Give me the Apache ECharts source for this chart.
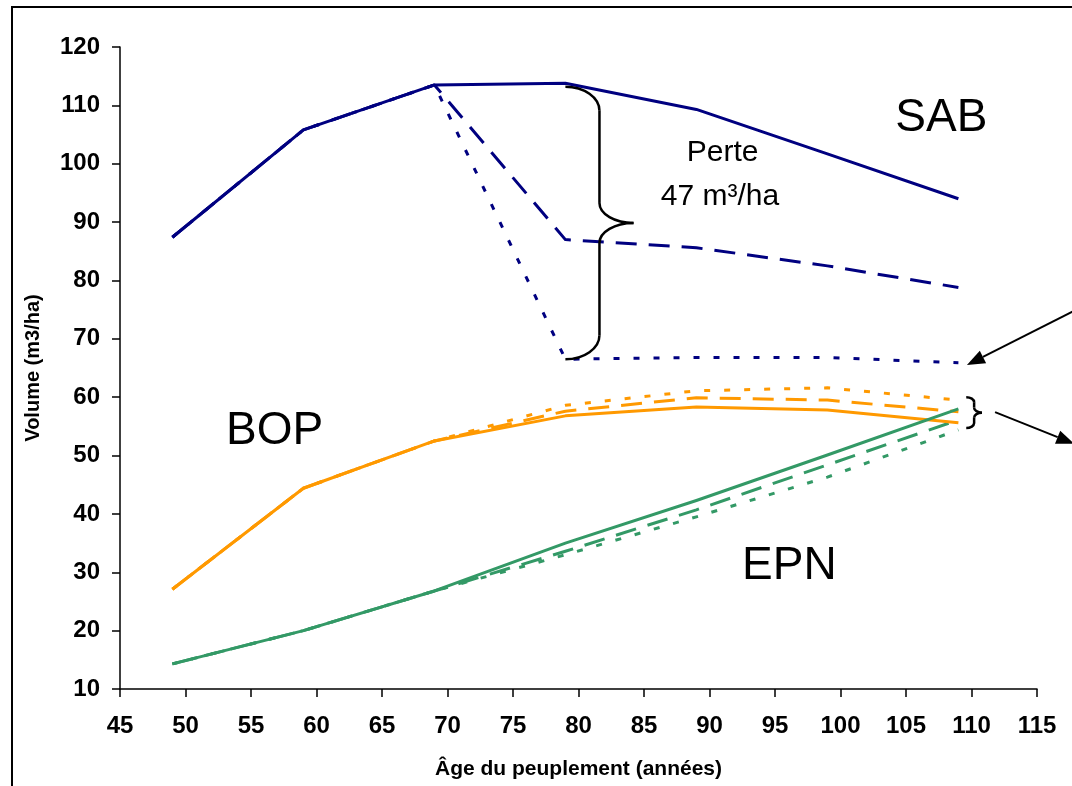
<!DOCTYPE html>
<html>
<head>
<meta charset="utf-8">
<script src="https://cdn.jsdelivr.net/npm/echarts@6/dist/echarts.min.js"></script>
<style>
  html, body { margin: 0; padding: 0; background: #fff; }
  #chart { width: 1072px; height: 786px; }
</style>
</head>
<body>
<div id="chart"></div>
<script>
// Âge du peuplement (années)
const ages = [49, 59, 69, 79, 89, 99, 109];

// Volume (m3/ha) par essence : témoin, perte modérée, perte sévère
const sabTemoin = [87.4, 105.8, 113.5, 113.8, 109.3, 101.7, 94.0];
const sabModere = [87.4, 105.8, 113.5, 87.0, 85.6, 82.5, 78.8];
const sabSevere = [87.4, 105.8, 113.5, 66.5, 66.8, 66.8, 65.9];

const bopTemoin = [27.1, 44.4, 52.5, 56.8, 58.3, 57.8, 55.6];
const bopModere = [27.1, 44.4, 52.5, 57.6, 59.9, 59.5, 57.5];
const bopSevere = [27.1, 44.4, 52.5, 58.6, 61.1, 61.6, 59.5];

const epnTemoin = [14.3, 20.0, 26.8, 35.0, 42.3, 50.1, 58.0];
const epnModere = [14.3, 20.0, 26.8, 33.6, 40.7, 48.4, 56.1];
const epnSevere = [14.3, 20.0, 26.8, 33.0, 39.5, 46.3, 54.4];

// Axis ranges and tick steps
const xMin = 45, xMax = 115, xStep = 5;
const yMin = 10, yMax = 120, yStep = 10;

const NAVY = '#000080', ORANGE = '#FF9900', GREEN = '#339966';
const DASH = [21, 12];
const DOT = [6, 14];
const FONT = '"Liberation Sans", Arial, sans-serif';

function pairs(vals) { return ages.map((a, i) => [a, vals[i]]); }

function line(name, vals, color, type, z) {
  return {
    name: name,
    type: 'line',
    data: pairs(vals),
    symbol: 'none',
    z: z,
    lineStyle: { color: color, width: 3, type: type, cap: 'butt', join: 'round' },
    emphasis: { disabled: true }
  };
}

const chart = echarts.init(document.getElementById('chart'), null, { renderer: 'canvas' });

chart.setOption({
  animation: false,
  backgroundColor: '#ffffff',
  grid: { left: 120, right: 35, top: 47, bottom: 97 },
  xAxis: {
    type: 'value',
    min: xMin, max: xMax, interval: xStep,
    name: 'Âge du peuplement (années)',
    nameLocation: 'middle',
    nameGap: 70,
    nameTextStyle: { fontFamily: FONT, fontWeight: 'bold', fontSize: 21, color: '#000' },
    axisLine: { lineStyle: { color: '#000', width: 1.5 } },
    axisTick: { show: true, inside: false, length: 8, lineStyle: { color: '#000', width: 1.5 } },
    axisLabel: { fontFamily: FONT, fontWeight: 'bold', fontSize: 24, color: '#000', margin: 25 },
    splitLine: { show: false }
  },
  yAxis: {
    type: 'value',
    min: yMin, max: yMax, interval: yStep,
    name: 'Volume (m3/ha)',
    nameLocation: 'middle',
    nameGap: 77,
    nameRotate: 90,
    nameTextStyle: { fontFamily: FONT, fontWeight: 'bold', fontSize: 20, color: '#000' },
    axisLine: { show: true, lineStyle: { color: '#000', width: 1.5 } },
    axisTick: { show: true, inside: false, length: 8, lineStyle: { color: '#000', width: 1.5 } },
    axisLabel: { fontFamily: FONT, fontWeight: 'bold', fontSize: 24, color: '#000', margin: 20 },
    splitLine: { show: false }
  },
  series: [
    line('SAB perte modérée', sabModere, NAVY, DASH, 2),
    line('SAB perte sévère', sabSevere, NAVY, DOT, 2),
    line('SAB témoin', sabTemoin, NAVY, 'solid', 3),
    line('BOP perte modérée', bopModere, ORANGE, DASH, 2),
    line('BOP perte sévère', bopSevere, ORANGE, DOT, 2),
    line('BOP témoin', bopTemoin, ORANGE, 'solid', 3),
    line('EPN perte modérée', epnModere, GREEN, DASH, 2),
    line('EPN perte sévère', epnSevere, GREEN, DOT, 2),
    line('EPN témoin', epnTemoin, GREEN, 'solid', 3)
  ]
});

// ---- Annotations placed in data units, converted to pixels ----
function px(x, y) { return chart.convertToPixel({ gridIndex: 0 }, [x, y]); }

const STROKE = { stroke: '#000', lineWidth: 2.5, fill: 'none' };

function seg(x1, y1, x2, y2) {
  return { type: 'line', z: 50, silent: true,
           shape: { x1: x1, y1: y1, x2: x2, y2: y2 }, style: STROKE };
}
function curve(x1, y1, c1x, c1y, c2x, c2y, x2, y2) {
  return { type: 'bezierCurve', z: 50, silent: true,
           shape: { x1: x1, y1: y1, cpx1: c1x, cpy1: c1y, cpx2: c2x, cpy2: c2y, x2: x2, y2: y2 },
           style: STROKE };
}

// Curly brace: hook end x, spine x, tip x, top value, bottom value, hook and tip radii (px)
function brace(xh, xv, xt, yTop, yBot, rh, rt) {
  const a = px(xh, yTop), b = px(xv, yTop), c = px(xt, yTop), d = px(xh, yBot);
  const H = a[0], V = b[0], T = c[0], yT = a[1], yB = d[1], yM = (yT + yB) / 2;
  const k = 0.55;
  return [
    curve(H, yT, H + (V - H) * k, yT, V, yT + rh * (1 - k), V, yT + rh),
    seg(V, yT + rh, V, yM - rt),
    curve(V, yM - rt, V, yM - rt * (1 - k), V + (T - V) * (1 - k), yM, T, yM),
    curve(T, yM, V + (T - V) * (1 - k), yM, V, yM + rt * (1 - k), V, yM + rt),
    seg(V, yM + rt, V, yB - rh),
    curve(V, yB - rh, V, yB - rh * (1 - k), H + (V - H) * k, yB, H, yB)
  ];
}

// Arrow from tail to tip, both in data units
function arrow(tail, tip) {
  const p0 = px(tail[0], tail[1]), p1 = px(tip[0], tip[1]);
  const dx = p1[0] - p0[0], dy = p1[1] - p0[1];
  const len = Math.sqrt(dx * dx + dy * dy);
  const ux = dx / len, uy = dy / len;
  const hl = 18, hw = 7;
  const bx = p1[0] - ux * hl, by = p1[1] - uy * hl;
  return [
    { type: 'line', z: 50, silent: true,
      shape: { x1: p0[0], y1: p0[1], x2: bx, y2: by },
      style: { stroke: '#000', lineWidth: 2 } },
    { type: 'polygon', z: 50, silent: true,
      shape: { points: [[p1[0], p1[1]], [bx - uy * hw, by + ux * hw], [bx + uy * hw, by - ux * hw]] },
      style: { fill: '#000' } }
  ];
}

function label(text, x, y, size) {
  const p = px(x, y);
  return {
    type: 'text', z: 50, silent: true,
    x: p[0], y: p[1],
    style: { text: text, fill: '#000', fontFamily: FONT, fontSize: size,
             textAlign: 'center', textVerticalAlign: 'middle' }
  };
}

const graphics = [
  // outer frame
  { type: 'rect', z: 60, silent: true,
    shape: { x: 12, y: 7, width: 1200, height: 900 },
    style: { fill: 'none', stroke: '#000', lineWidth: 2 } },
  label('SAB', 107.7, 107.8, 46),
  label('BOP', 56.8, 54.2, 46),
  label('EPN', 96.1, 31.1, 46),
  label('Perte', 91.0, 101.8, 30),
  label('47 m³/ha', 90.8, 94.3, 30)
].concat(
  brace(79.0, 81.6, 84.2, 113.2, 66.5, 24, 20),
  brace(109.6, 110.2, 110.8, 60.0, 54.7, 5, 5),
  arrow([118.7, 75.8], [109.65, 65.5]),
  arrow([111.8, 57.45], [117.85, 52.0])
);

chart.setOption({ graphic: { elements: graphics } });
</script>
</body>
</html>
